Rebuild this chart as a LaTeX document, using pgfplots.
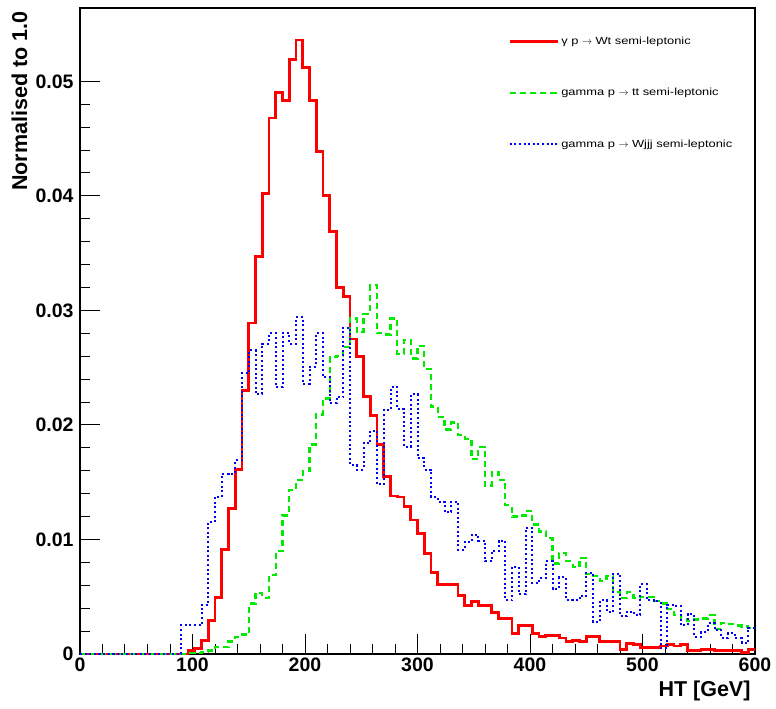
\documentclass[border=0pt]{standalone}
\usepackage{pgfplots}
\usepackage{pgfplotstable}
\pgfplotsset{compat=1.18}
\usepackage{fontspec}
\setmainfont{Liberation Sans}
% the legend text is set a little wide
\newfontfamily\widefont[FakeStretch=1.25]{Liberation Sans}

% HT distributions, 6 GeV bins, left edges (last row closes the final bin)
\pgfplotstableread{
x wt tt wjjj
0 0 0 0
6 0 0 0
12 0 0 0
18 0 0 0
24 0 0 0
30 0 0 0
36 0 0 0
42 0 0 0
48 0 0 0
54 0 0 0
60 0 0 0
66 0 0 0
72 0 0 0
78 0 0 0
84 0 0 0
90 0 0 0.0025
96 0.0003 0.0001 0.0025
102 0.0005 0.0001 0.0025
108 0.0012 0.0002 0.0043
114 0.0029 0.0003 0.0115
120 0.0049 0.0006 0.0137
126 0.0091 0.0006 0.0157
132 0.0127 0.0011 0.0157
138 0.0161 0.0015 0.0169
144 0.0230 0.0017 0.0245
150 0.0289 0.0044 0.0265
156 0.0347 0.0053 0.0227
162 0.0402 0.0049 0.0271
168 0.0468 0.0069 0.0280
174 0.0490 0.0090 0.0233
180 0.0483 0.0121 0.0280
186 0.0519 0.0143 0.0271
192 0.0536 0.0152 0.0294
198 0.0512 0.0160 0.0236
204 0.0483 0.0183 0.0251
210 0.0439 0.0209 0.0280
216 0.0400 0.0223 0.0242
222 0.0369 0.0259 0.0219
228 0.0320 0.0260 0.0224
234 0.0312 0.0268 0.0285
240 0.0275 0.0293 0.0165
246 0.0260 0.0281 0.0161
252 0.0225 0.0297 0.0184
258 0.0208 0.0322 0.0195
264 0.0183 0.0280 0.0148
270 0.0155 0.0279 0.0213
276 0.0138 0.0293 0.0233
282 0.0137 0.0262 0.0214
288 0.0129 0.0274 0.0181
294 0.0117 0.0258 0.0227
300 0.0105 0.0269 0.0171
306 0.0088 0.0249 0.0161
312 0.0071 0.0216 0.0137
318 0.0061 0.0207 0.0133
324 0.0061 0.0196 0.0124
330 0.0061 0.0202 0.0133
336 0.0051 0.0191 0.0091
342 0.0042 0.0188 0.0098
348 0.0046 0.0170 0.0104
354 0.0042 0.0181 0.0099
360 0.0042 0.0147 0.0081
366 0.0036 0.0159 0.0090
372 0.0031 0.0152 0.0099
378 0.0031 0.0130 0.0047
384 0.0018 0.0120 0.0076
390 0.0025 0.0121 0.0052
396 0.0025 0.0125 0.0110
402 0.0018 0.0113 0.0062
408 0.0015 0.0107 0.0066
414 0.0016 0.0101 0.0081
420 0.0016 0.0079 0.0057
426 0.0014 0.0088 0.0067
432 0.0011 0.0081 0.0047
438 0.0012 0.0076 0.0047
444 0.0011 0.0084 0.0051
450 0.0015 0.0070 0.0071
456 0.0015 0.0068 0.0028
462 0.0011 0.0064 0.0047
468 0.0011 0.0068 0.0037
474 0.0011 0.0054 0.0070
480 0.0004 0.0049 0.0033
486 0.0009 0.0054 0.0037
492 0.0008 0.0049 0.0034
498 0.0006 0.0050 0.0061
504 0.0006 0.0050 0.0047
510 0.0006 0.0046 0.0046
516 0.0007 0.0044 0.0005
522 0.0008 0.0039 0.0043
528 0.0007 0.0034 0.0042
534 0.0008 0.0030 0.0025
540 0.0003 0.0029 0.0035
546 0.0003 0.0030 0.0015
552 0.0004 0.0031 0.0019
558 0.0004 0.0034 0.0027
564 0.0003 0.0022 0.0021
570 0.0003 0.0027 0.0014
576 0.0003 0.0026 0.0018
582 0.0003 0.0025 0.0014
588 0.0001 0.0024 0.0010
594 0.0004 0.0023 0.0023
600 0.0004 0.0023 0.0023
}\htdata

\begin{document}
\begin{tikzpicture}
\useasboundingbox (-80pt,-55pt) rectangle (696pt,654pt);
\begin{axis}[
  scale only axis, width=675pt, height=646pt,
  xmin=0, xmax=600, ymin=0, ymax=0.0564,
  axis line style={line width=1.3pt},
  xtick={0,100,...,600}, xticklabels={0,100,200,300,400,500,600},
  ytick={0,0.01,0.02,0.03,0.04,0.05}, yticklabels={0,0.01,0.02,0.03,0.04,0.05},
  scaled y ticks=false,
  minor x tick num=4, minor y tick num=4,
  xtick pos=bottom, ytick pos=left, tick align=inside,
  major tick length=20pt, minor tick length=10pt,
  every tick/.style={black, line width=1pt},
  /pgf/number format/assume math mode=true,
  tick label style={font=\fontsize{19.5}{23}\selectfont\bfseries},
  yticklabel style={xshift=-3pt},
  xlabel={HT [GeV]}, ylabel={Normalised to 1.0},
  label style={font=\fontsize{21.5}{26}\selectfont\bfseries},
  xlabel style={at={(axis description cs:1,0)}, anchor=north east, yshift=-23pt, xshift=-1pt},
  ylabel style={anchor=south east, yshift=0pt},
  every axis y label/.append style={at={(axis description cs:-0.0726,1)}},
  legend cell align=left,
  legend style={draw=none, fill=none, at={(rel axis cs:0.63,0.962)}, anchor=north west,
    font=\widefont\fontsize{10.3}{12}\selectfont, row sep=38.5pt},
  legend image code/.code={\draw[#1] (0pt,0pt) -- (41pt,0pt); \path (41pt,0pt) -- (48pt,0pt);},
]
\addplot[const plot mark left, red, line width=2.8pt] table[x=x, y=wt] {\htdata};
\addplot[const plot mark left, color={rgb,255:red,0;green,235;blue,0}, line width=2.3pt, dash pattern=on 6pt off 4pt] table[x=x, y=tt] {\htdata};
\addplot[const plot mark left, blue, line width=2pt, dash pattern=on 2pt off 2.6pt] table[x=x, y=wjjj] {\htdata};
\legend{γ p $\rightarrow$ Wt semi-leptonic, gamma p $\rightarrow$ tt semi-leptonic, gamma p $\rightarrow$ Wjjj semi-leptonic}
\end{axis}
\end{tikzpicture}
\end{document}
